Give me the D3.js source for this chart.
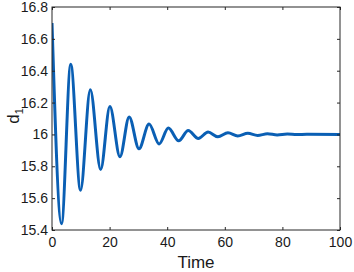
<!DOCTYPE html>
<html>
<head>
<meta charset="utf-8">
<script src="https://cdn.jsdelivr.net/npm/d3@7"></script>
<style>
body{margin:0;background:#fff;}
svg{display:block;font-family:"Liberation Sans",Arial,sans-serif;}
</style>
</head>
<body>
<svg id="c" width="354" height="272"></svg>
<script>
// Extrema of the damped oscillation
const times = [0, 3.3, 6.5, 9.9, 13.3, 16.9, 20.1, 23.6, 26.8, 30.2, 33.7, 37.2, 40.4, 44.0, 47.3, 50.8, 54.2, 57.6, 61.1, 64.5, 68.0, 71.4, 74.8, 78.2, 81.7, 85.0, 88.5, 100];
const d1Values = [16.70, 15.44, 16.44, 15.65, 16.28, 15.78, 16.175, 15.86, 16.11, 15.91, 16.065, 15.94, 16.04, 15.96, 16.025, 15.975, 16.015, 15.985, 16.01, 15.99, 16.007, 15.994, 16.004, 15.997, 16.002, 15.999, 16.001, 16.0];
const xTicks = [0, 20, 40, 60, 80, 100];
const yTicks = [15.4, 15.6, 15.8, 16, 16.2, 16.4, 16.6, 16.8];
const xLabel = "Time";

const svg = d3.select("#c");
const L = 52, R = 340, T = 7, B = 230;
const x = d3.scaleLinear().domain([0, 100]).range([L, R]);
const y = d3.scaleLinear().domain([15.4, 16.8]).range([B, T]);
const axisCol = "#262626";

svg.append("defs").append("clipPath").attr("id", "clip")
  .append("rect").attr("x", L).attr("y", T).attr("width", R - L).attr("height", B - T);

const data = times.map((t, i) => [t, d1Values[i]]);
const line = d3.line().x(d => x(d[0])).y(d => y(d[1])).curve(d3.curveMonotoneX);
svg.append("path").datum(data).attr("d", line)
  .attr("fill", "none").attr("stroke", "#0a5fb4").attr("stroke-width", 3)
  .attr("stroke-linejoin", "round").attr("clip-path", "url(#clip)");

svg.append("rect").attr("x", L).attr("y", T).attr("width", R - L).attr("height", B - T)
  .attr("fill", "none").attr("stroke", axisCol).attr("stroke-width", 1);

const fmt = d => String(+d.toFixed(1));
const ax = d3.axisBottom(x).tickValues(xTicks).tickSizeInner(-3).tickSizeOuter(0).tickPadding(7).tickFormat(d => d);
const gx = svg.append("g").attr("transform", `translate(0,${B})`).call(ax);
const axTop = d3.axisTop(x).tickValues(xTicks).tickSizeInner(-3).tickSizeOuter(0).tickFormat("");
const gxt = svg.append("g").attr("transform", `translate(0,${T})`).call(axTop);
const ay = d3.axisLeft(y).tickValues(yTicks).tickSizeInner(-3).tickSizeOuter(0).tickPadding(4).tickFormat(fmt);
const gy = svg.append("g").attr("transform", `translate(${L},0)`).call(ay);
const ayR = d3.axisRight(y).tickValues(yTicks).tickSizeInner(-3).tickSizeOuter(0).tickFormat("");
const gyr = svg.append("g").attr("transform", `translate(${R},0)`).call(ayR);

[gx, gxt, gy, gyr].forEach(g => {
  g.select(".domain").remove();
  g.selectAll("line").attr("stroke", axisCol);
  g.selectAll("text").attr("fill", "#1a1a1a").style("font-size", "14px")
    .style("font-family", "'Liberation Sans', Arial, sans-serif");
});

svg.append("text").attr("x", (L + R) / 2).attr("y", 268).attr("text-anchor", "middle")
  .style("font-size", "17px").attr("fill", "#1a1a1a").text(xLabel);

const yl = svg.append("text").attr("transform", "translate(19,116) rotate(-90)")
  .attr("text-anchor", "middle").style("font-size", "17px").attr("fill", "#1a1a1a");
yl.append("tspan").text("d");
yl.append("tspan").attr("dy", 4).style("font-size", "11px").text("1");
</script>
</body>
</html>
